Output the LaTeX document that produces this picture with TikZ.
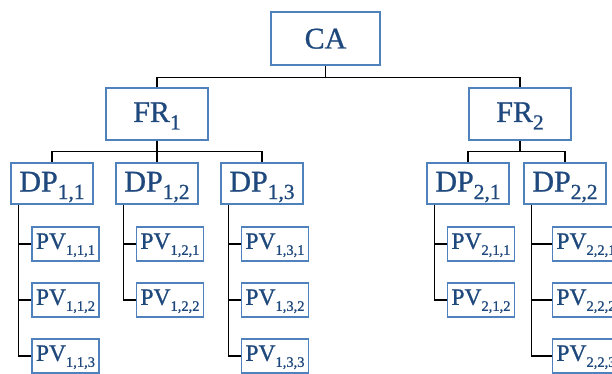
\documentclass[tikz,border=0pt]{standalone}
\usepackage{fontspec}
\setmainfont{Liberation Serif}
\newfontfamily\heavy{Liberation Serif}[FakeBold=0.9]
\definecolor{bordc}{HTML}{4F81BD}
\definecolor{txtc}{HTML}{1F497D}
\newcommand\bsub[1]{\raisebox{-7.5pt}{\fontsize{21.5}{21.5}\selectfont #1}}
\newcommand\psub[1]{\raisebox{-6pt}{\fontsize{14.5}{14.5}\selectfont #1}}
\tikzset{
  box/.style={draw=bordc, line width=1.1pt, fill=white, text=txtc, inner sep=0pt, anchor=center},
  big/.style={box, font=\heavy\fontsize{30}{30}\selectfont, text height=20pt, text depth=4pt},
  ca/.style={big, minimum width=109pt, minimum height=53pt, text depth=0pt},
  fr/.style={big, minimum width=102pt, minimum height=52pt},
  dp/.style={big, minimum width=82pt, minimum height=41pt},
  pv/.style={box, font=\heavy\fontsize{23.5}{23.5}\selectfont, minimum width=67pt, minimum height=34pt, text height=15.7pt, text depth=6pt},
  conn/.style={draw=black, line width=1.2pt}
}
\begin{document}
\begin{tikzpicture}[x=1pt,y=1pt]
\path[use as bounding box, fill=white] (0,0) rectangle (612,-374);
% nodes
\node[ca] (CA) at (325.5,-38.5) {CA};
\node[fr] (FR1) at (157,-114) {FR\bsub{1}};
\node[fr] (FR2) at (520,-114) {FR\bsub{2}};
\node[dp] (DP11) at (52,-183.5) {DP\bsub{1,1}};
\node[dp] (DP12) at (157,-183.5) {DP\bsub{1,2}};
\node[dp] (DP13) at (262,-183.5) {DP\bsub{1,3}};
\node[dp] (DP21) at (468,-183.5) {DP\bsub{2,1}};
\node[dp] (DP22) at (565,-183.5) {DP\bsub{2,2}};
\node[pv] (PV111) at (65.5,-244) {PV\psub{1,1,1}};
\node[pv] (PV112) at (65.5,-300) {PV\psub{1,1,2}};
\node[pv] (PV113) at (65.5,-356) {PV\psub{1,1,3}};
\node[pv] (PV121) at (170,-244) {PV\psub{1,2,1}};
\node[pv] (PV122) at (170,-300) {PV\psub{1,2,2}};
\node[pv] (PV131) at (275,-244) {PV\psub{1,3,1}};
\node[pv] (PV132) at (275,-300) {PV\psub{1,3,2}};
\node[pv] (PV133) at (275,-356) {PV\psub{1,3,3}};
\node[pv] (PV211) at (481,-244) {PV\psub{2,1,1}};
\node[pv] (PV212) at (481,-300) {PV\psub{2,1,2}};
\node[pv] (PV221) at (586,-244) {PV\psub{2,2,1}};
\node[pv] (PV222) at (586,-300) {PV\psub{2,2,2}};
\node[pv] (PV223) at (586,-356) {PV\psub{2,2,3}};
% bus coordinates
\coordinate (b0) at ([yshift=-12pt]CA.south);
\coordinate (b1) at ([yshift=-11pt]FR1.south);
\coordinate (b2) at ([yshift=-11pt]FR2.south);
\coordinate (v11) at ([xshift=8pt]DP11.south west);
\coordinate (v12) at ([xshift=8pt]DP12.south west);
\coordinate (v13) at ([xshift=8pt]DP13.south west);
\coordinate (v21) at ([xshift=8pt]DP21.south west);
\coordinate (v22) at ([xshift=8pt]DP22.south west);
% connectors
\draw[conn] (CA.south) -- (b0);
\draw[conn] (FR1.north) |- (b0) -| (FR2.north);
\draw[conn] (FR1.south) -- (DP12.north);
\draw[conn] (DP11.north) |- (b1) -| (DP13.north);
\draw[conn] (FR2.south) -- (b2);
\draw[conn] (DP21.north) |- (b2) -| (DP22.north);
\draw[conn] (v11) |- (PV113.west);
\draw[conn] (v11 |- PV111.west) -- (PV111.west);
\draw[conn] (v11 |- PV112.west) -- (PV112.west);
\draw[conn] (v12) |- (PV122.west);
\draw[conn] (v12 |- PV121.west) -- (PV121.west);
\draw[conn] (v13) |- (PV133.west);
\draw[conn] (v13 |- PV131.west) -- (PV131.west);
\draw[conn] (v13 |- PV132.west) -- (PV132.west);
\draw[conn] (v21) |- (PV212.west);
\draw[conn] (v21 |- PV211.west) -- (PV211.west);
\draw[conn] (v22) |- (PV223.west);
\draw[conn] (v22 |- PV221.west) -- (PV221.west);
\draw[conn] (v22 |- PV222.west) -- (PV222.west);
\end{tikzpicture}
\end{document}
